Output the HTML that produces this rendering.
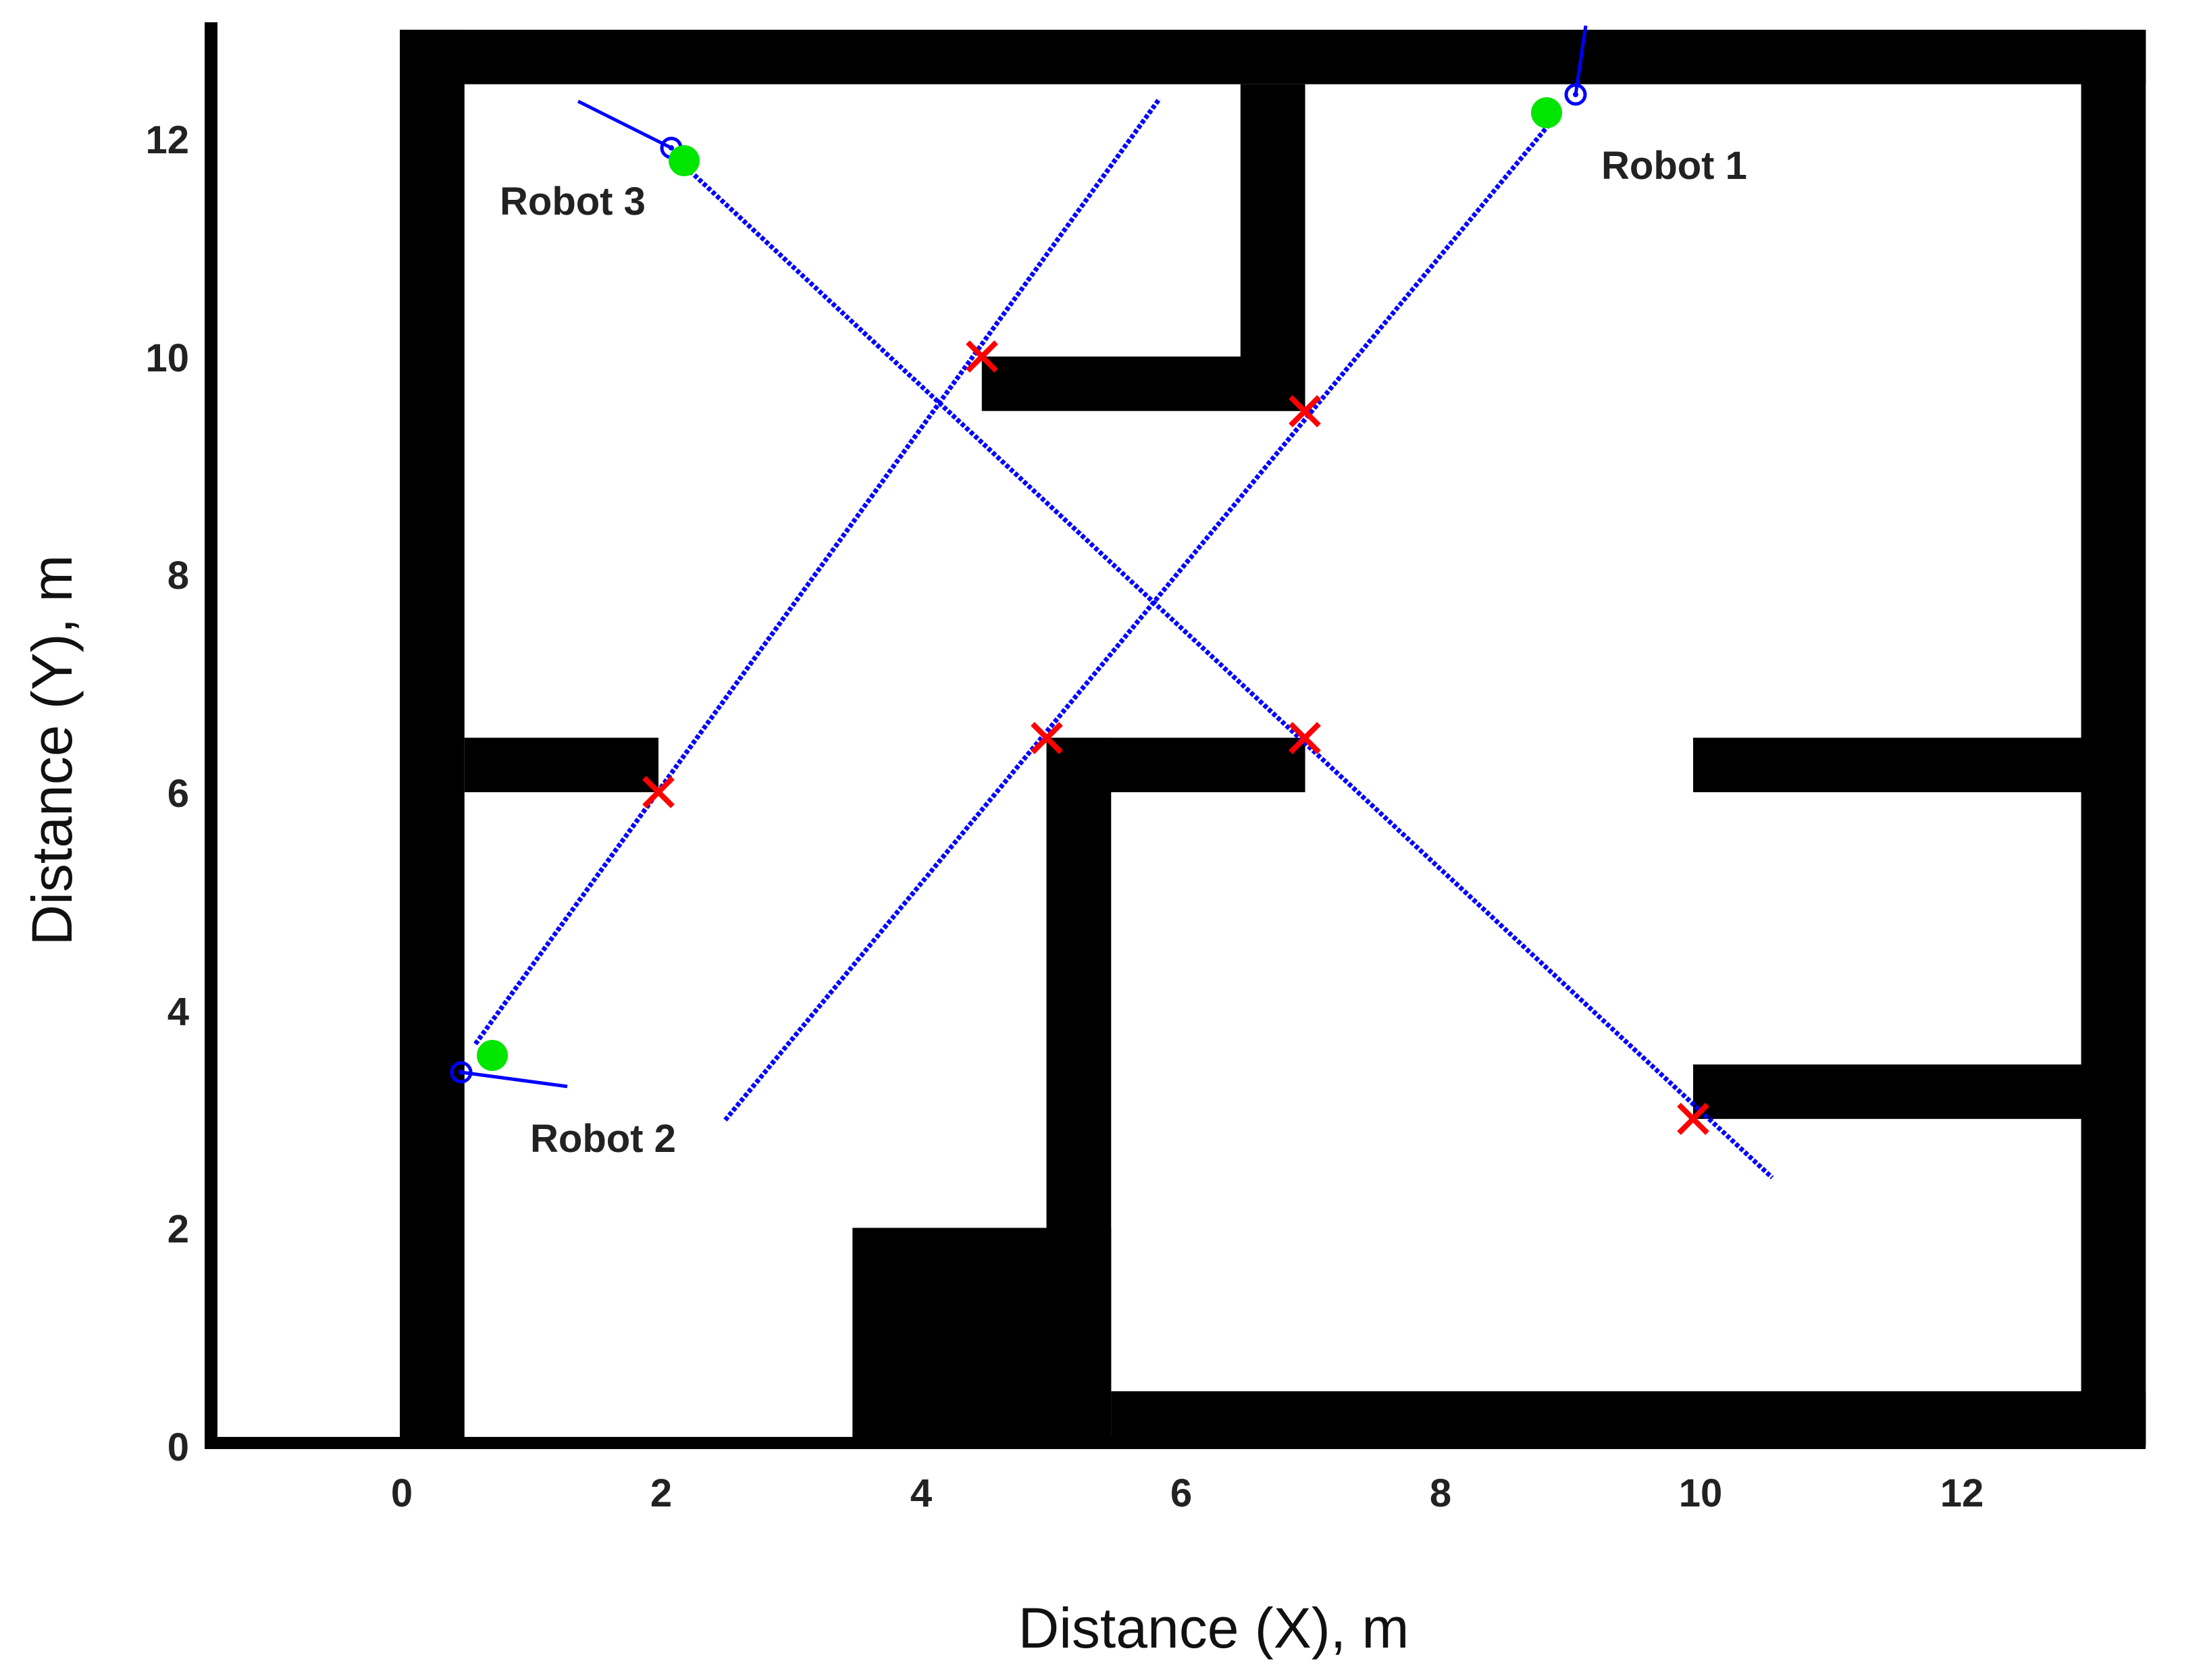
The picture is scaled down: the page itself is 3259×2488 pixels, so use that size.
<!DOCTYPE html>
<html><head><meta charset="utf-8"><style>
html,body{margin:0;padding:0;background:#fff;}
svg{display:block;}
text{font-family:"Liberation Sans",sans-serif;}
</style></head><body>
<svg width="3259" height="2488" viewBox="0 0 3259 2488" xmlns="http://www.w3.org/2000/svg">
<rect width="3259" height="2488" fill="#fff"/>
<g transform="matrix(191.5 0 0 -161.3 592 2141)" fill="#000">
  <rect x="0" y="0" width="0.5" height="13"/>
  <rect x="0" y="12.5" width="13.5" height="0.5"/>
  <rect x="13" y="0" width="0.5" height="13"/>
  <rect x="5.5" y="0" width="8" height="0.5"/>
  <rect x="3.5" y="0" width="2" height="2"/>
  <rect x="5" y="0" width="0.5" height="6.5"/>
  <rect x="5" y="6" width="2" height="0.5"/>
  <rect x="0.5" y="6" width="1.5" height="0.5"/>
  <rect x="6.5" y="9.5" width="0.5" height="3"/>
  <rect x="4.5" y="9.5" width="2.5" height="0.5"/>
  <rect x="10" y="6" width="3" height="0.5"/>
  <rect x="10" y="3" width="3" height="0.5"/>
</g>
<!-- axes -->
<rect x="303" y="33" width="19" height="2113" fill="#000"/>
<rect x="303" y="2128" width="2874" height="18" fill="#000"/>
<!-- paths -->
<g stroke="#0000ff" stroke-width="7" stroke-dasharray="6 3" fill="none">
  <line x1="704" y1="1546" x2="1717" y2="146"/>
  <line x1="2294" y1="184" x2="1072" y2="1661"/>
  <line x1="1015" y1="247" x2="2624" y2="1744"/>
</g>
<g stroke="#0000ff" stroke-width="5" fill="none">
  <line x1="994" y1="219" x2="856" y2="150"/>
  <line x1="2333" y1="140" x2="2348" y2="38"/>
  <line x1="683" y1="1588" x2="840" y2="1609"/>
  <circle cx="994" cy="219" r="14"/>
  <circle cx="2333" cy="140" r="14"/>
  <circle cx="683" cy="1588" r="14"/>
</g>
<g fill="#0000ff">
  <circle cx="994" cy="219" r="4"/><circle cx="2333" cy="140" r="4"/><circle cx="683" cy="1588" r="4"/>
</g>
<g fill="#00e600">
  <circle cx="1013" cy="238" r="23"/>
  <circle cx="2290" cy="167" r="23"/>
  <circle cx="729" cy="1563" r="23"/>
</g>
<!-- red X markers -->
<g stroke="#ff0000" stroke-width="8">
  <path d="M1433 507 L1475 549 M1475 507 L1433 549"/>
  <path d="M1911 588 L1953 630 M1953 588 L1911 630"/>
  <path d="M954 1152 L996 1194 M996 1152 L954 1194"/>
  <path d="M1529 1072 L1571 1114 M1571 1072 L1529 1114"/>
  <path d="M1911 1072 L1953 1114 M1953 1072 L1911 1114"/>
  <path d="M2486 1636 L2528 1678 M2528 1636 L2486 1678"/>
</g>
<g font-size="58" font-weight="bold" fill="#222">
  <text x="740" y="318">Robot 3</text>
  <text x="2371" y="265">Robot 1</text>
  <text x="785" y="1706">Robot 2</text>
</g>
<g font-size="58" font-weight="bold" fill="#222" text-anchor="end">
  <text x="280" y="2163">0</text>
  <text x="280" y="1840">2</text>
  <text x="280" y="1518">4</text>
  <text x="280" y="1195">6</text>
  <text x="280" y="872">8</text>
  <text x="280" y="550">10</text>
  <text x="280" y="227">12</text>
</g>
<g font-size="58" font-weight="bold" fill="#222" text-anchor="middle">
  <text x="595" y="2231">0</text>
  <text x="979" y="2231">2</text>
  <text x="1364" y="2231">4</text>
  <text x="1749" y="2231">6</text>
  <text x="2133" y="2231">8</text>
  <text x="2518" y="2231">10</text>
  <text x="2905" y="2231">12</text>
</g>
<text x="1797" y="2440" font-size="84" fill="#111" text-anchor="middle">Distance (X), m</text>
<text transform="translate(106 1111) rotate(-90)" font-size="84" fill="#111" text-anchor="middle">Distance (Y), m</text>
</svg>
</body></html>
